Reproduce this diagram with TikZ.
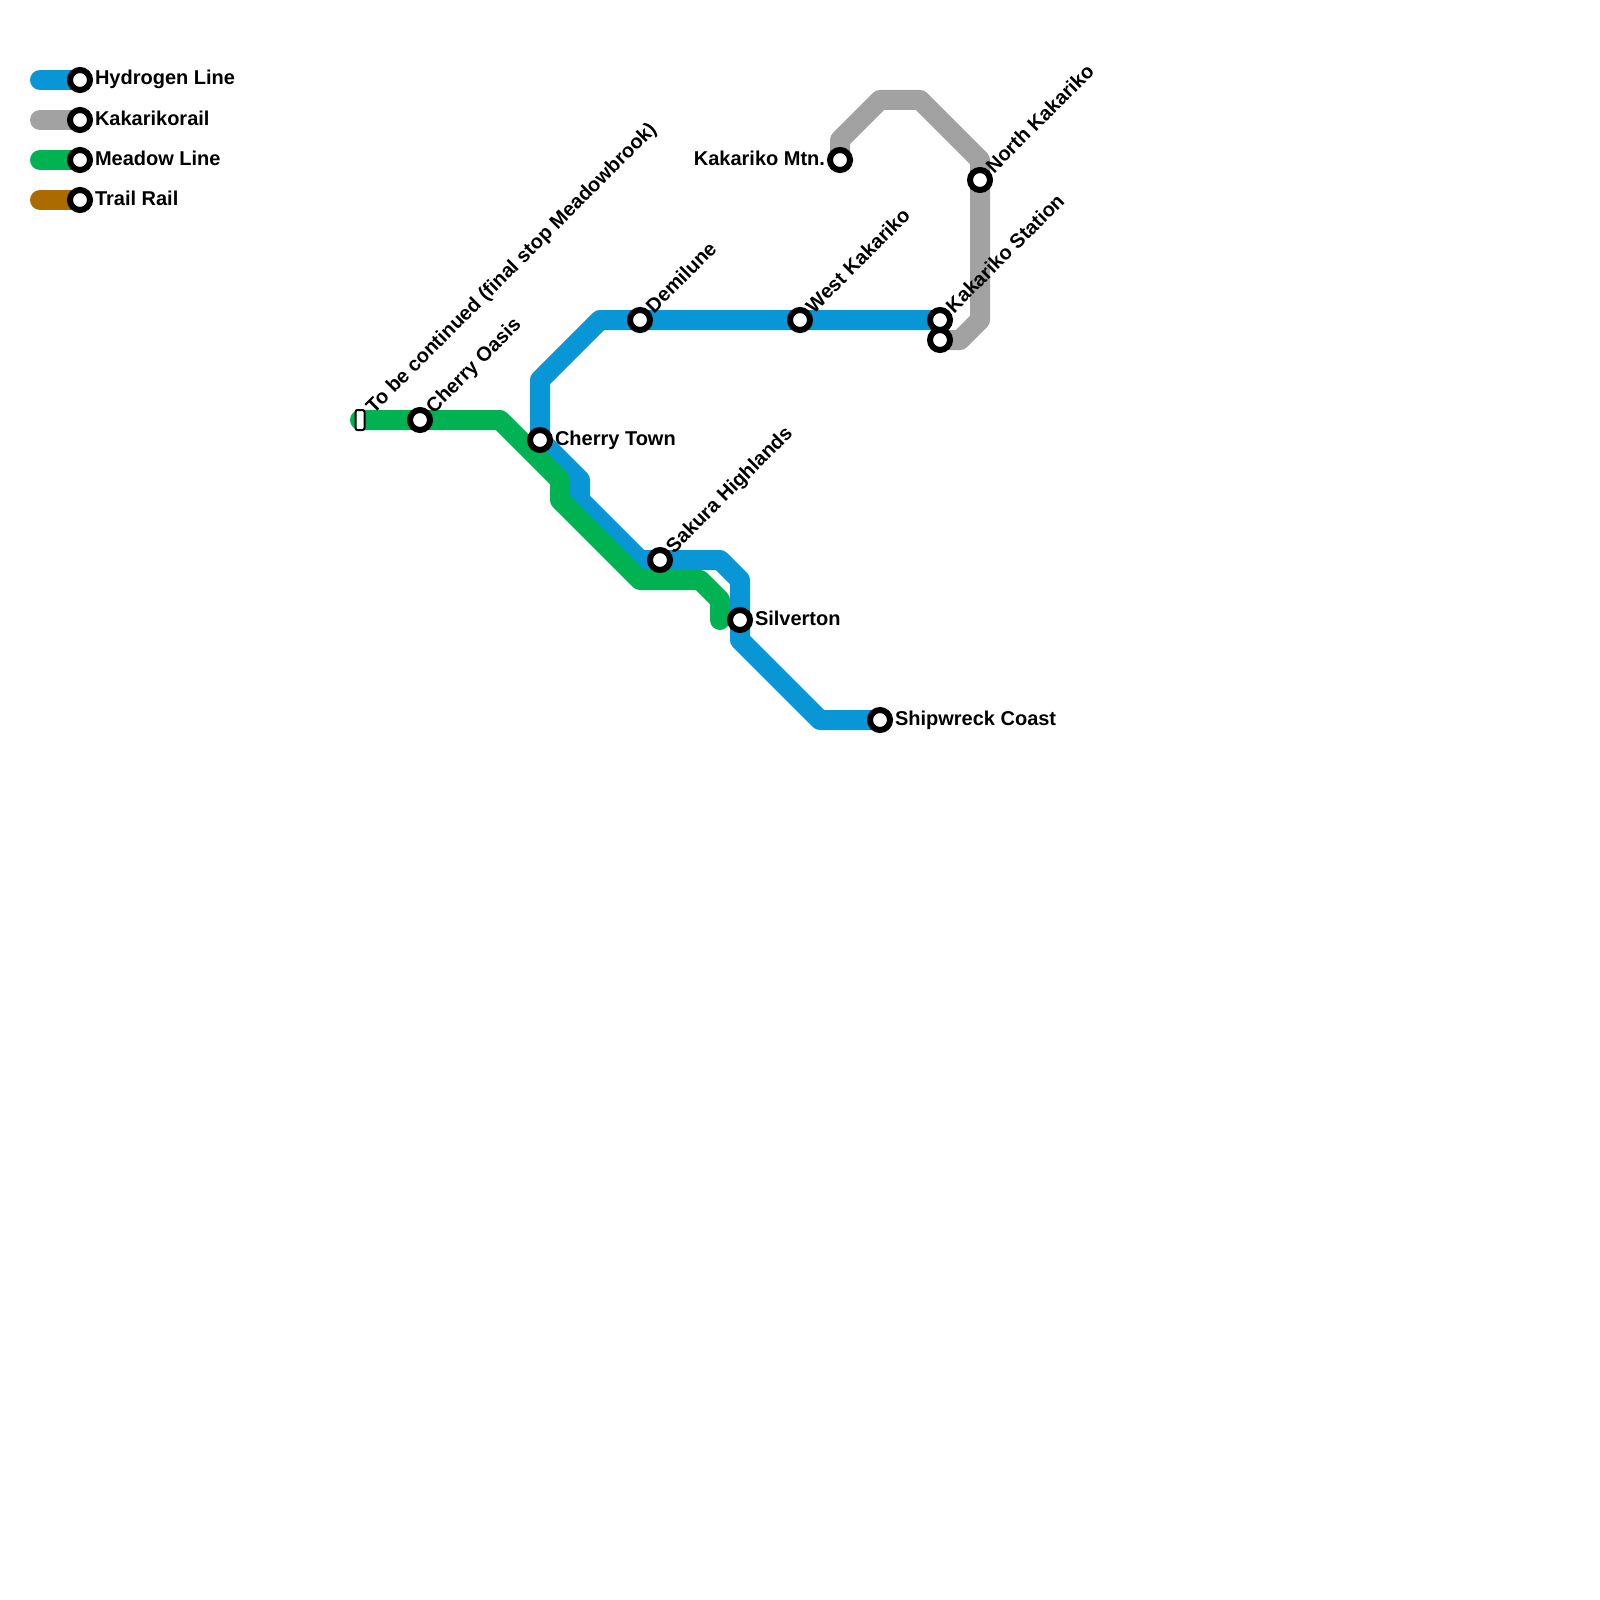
\documentclass[tikz,border=0pt]{standalone}
\usepackage{fontspec}
\setmainfont{Liberation Sans}
\usetikzlibrary{backgrounds}
\definecolor{hyd}{HTML}{0896D7}
\definecolor{kak}{HTML}{A2A2A2}
\definecolor{mea}{HTML}{00B251}
\definecolor{tra}{HTML}{AC6B00}
\tikzset{x=1pt,y=-1pt,
 stn/.style={circle,draw=black,fill=white,line width=6pt,minimum size=20pt,inner sep=0pt,outer sep=0pt},
 term/.style={rectangle,rounded corners=2pt,draw=black,fill=white,line width=2pt,minimum width=9pt,minimum height=20pt,inner sep=0pt,outer sep=0pt},
 route/.style={line width=20pt,line cap=round,line join=round},
 lab/.style={font=\fontsize{20}{22}\selectfont\bfseries,inner sep=0pt,outer sep=0pt,text=black},
 rt/.style={lab,anchor=base west},
 lt/.style={lab,anchor=base east},
 dg/.style={lab,anchor=base west,rotate=45}}
\begin{document}
\begin{tikzpicture}
\useasboundingbox (0,0) rectangle (1600,1600);
% legend
\node[stn] (l1) at (80,80) {};
\node[stn] (l2) at (80,120) {};
\node[stn] (l3) at (80,160) {};
\node[stn] (l4) at (80,200) {};
\coordinate (l1s) at (40,80);
\coordinate (l2s) at (40,120);
\coordinate (l3s) at (40,160);
\coordinate (l4s) at (40,200);
\node[rt] (t1) at (95,85) {Hydrogen Line};
\node[rt] (t2) at (95,125) {Kakarikorail};
\node[rt] (t3) at (95,165) {Meadow Line};
\node[rt] (t4) at (95,205) {Trail Rail};
% stations
\node[term] (tbc) at (360,420) {};
\node[stn] (coa) at (420,420) {};
\node[stn] (cto) at (540,440) {};
\node[stn] (dem) at (640,320) {};
\node[stn] (wka) at (800,320) {};
\node[stn] (kst) at (940,320) {};
\node[stn] (ksb) at (940,340) {};
\node[stn] (nka) at (980,180) {};
\node[stn] (kmt) at (840,160) {};
\node[stn] (sak) at (660,560) {};
\node[stn] (sil) at (740,620) {};
\node[stn] (shi) at (880,720) {};
% labels
\node[dg] (ltbc) at (374,414) {To be continued (final stop Meadowbrook)};
\node[dg] (lcoa) at (434,414) {Cherry Oasis};
\node[rt] (lcto) at (555,445) {Cherry Town};
\node[dg] (ldem) at (654,314) {Demilune};
\node[dg] (lwka) at (814,314) {West Kakariko};
\node[dg] (lkst) at (954,314) {Kakariko Station};
\node[dg] (lnka) at (994,174) {North Kakariko};
\node[lt] (lkmt) at (825,165) {Kakariko Mtn.};
\node[dg] (lsak) at (674,554) {Sakura Highlands};
\node[rt] (lsil) at (755,625) {Silverton};
\node[rt] (lshi) at (895,725) {Shipwreck Coast};
% bends
\coordinate (h1) at (540,380);
\coordinate (h2) at (600,320);
\coordinate (h3) at (580,480);
\coordinate (h4) at (580,500);
\coordinate (h5) at (640,560);
\coordinate (h6) at (720,560);
\coordinate (h7) at (740,580);
\coordinate (h8) at (740,640);
\coordinate (h9) at (820,720);
\coordinate (m1) at (500,420);
\coordinate (m2) at (560,480);
\coordinate (m3) at (560,500);
\coordinate (m4) at (640,580);
\coordinate (m5) at (700,580);
\coordinate (m6) at (720,600);
\coordinate (m7) at (720,620);
\coordinate (k1) at (840,140);
\coordinate (k2) at (880,100);
\coordinate (k3) at (920,100);
\coordinate (k4) at (980,160);
\coordinate (k5) at (980,320);
\coordinate (k6) at (960,340);
\begin{pgfonlayer}{background}
\fill[white] (0,0) rectangle (1600,1600);
\draw[route,hyd] (l1s) -- (l1.center);
\draw[route,kak] (l2s) -- (l2.center);
\draw[route,mea] (l3s) -- (l3.center);
\draw[route,tra] (l4s) -- (l4.center);
\draw[route,hyd] (kst.center) -- (wka.center) -- (dem.center) -- (h2) -- (h1) -- (cto.center) -- (h3) -- (h4) -- (h5) -- (sak.center) -- (h6) -- (h7) -- (sil.center) -- (h8) -- (h9) -- (shi.center);
\draw[route,kak] (kmt.center) -- (k1) -- (k2) -- (k3) -- (k4) -- (nka.center) -- (k5) -- (k6) -- (ksb.center);
\draw[route,mea] (tbc.center) -- (coa.center) -- (m1) -- (m2) -- (m3) -- (m4) -- (m5) -- (m6) -- (m7);
\end{pgfonlayer}
\end{tikzpicture}
\end{document}
